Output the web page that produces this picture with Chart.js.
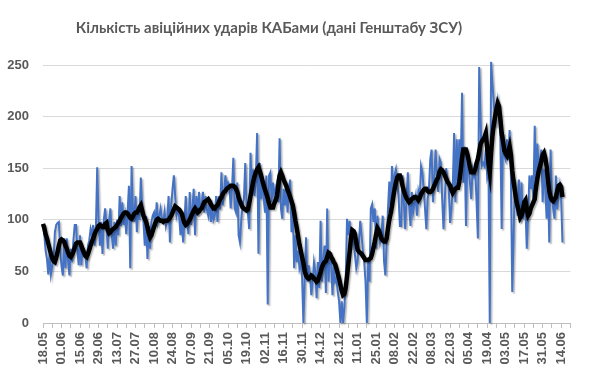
<!DOCTYPE html>
<html>
<head>
<meta charset="utf-8">
<script src="https://cdn.jsdelivr.net/npm/chart.js@4/dist/chart.umd.min.js"></script>
<style>
    body { margin: 0; background: #fff; }
    #wrap { position: relative; width: 590px; height: 376px; }
    #title {
        position: absolute; left: 0; top: 18px; width: 538px;
        text-align: center; font: bold 15px 'Lato', sans-serif; color: #595959;
    }
</style>
</head>
<body>
<div id="wrap">
    <div id="title">Кількість авіційних ударів КАБами (дані Генштабу ЗСУ)</div>
    <canvas id="strikesChart"></canvas>
</div>
<script>
// дні від 18.05, підпис кожні 14 днів
const dateLabels = ['18.05', '01.06', '15.06', '29.06', '13.07', '27.07', '10.08', '24.08', '07.09', '21.09',
    '05.10', '19.10', '02.11', '16.11', '30.11', '14.12', '28.12', '11.01', '25.01', '08.02',
    '22.02', '08.03', '22.03', '05.04', '19.04', '03.05', '17.05', '31.05', '14.06'];
const yTicks = [0, 50, 100, 150, 200, 250];

// щоденна кількість ударів
const dailyStrikes = [
    95, 85, 70, 62, 47, 68, 47, 55, 62, 88,
    95, 97, 98, 70, 55, 46, 82, 53, 82, 60,
    46, 72, 59, 80, 95, 95, 70, 56, 85, 56,
    72, 72, 66, 53, 75, 80, 91, 85, 95, 75,
    90, 151, 100, 75, 98, 67, 100, 111, 95, 72,
    100, 111, 85, 72, 98, 75, 100, 85, 123, 94,
    117, 95, 104, 86, 107, 133, 53, 152, 111, 98,
    123, 88, 111, 100, 141, 114, 98, 75, 104, 62,
    94, 72, 98, 104, 107, 94, 117, 98, 104, 111,
    100, 98, 108, 94, 100, 123, 78, 114, 130, 143,
    123, 104, 110, 104, 85, 104, 78, 98, 123, 100,
    86, 127, 95, 110, 130, 85, 123, 104, 127, 110,
    114, 127, 107, 123, 110, 104, 117, 98, 111, 100,
    104, 123, 98, 123, 110, 146, 114, 127, 143, 130,
    136, 133, 111, 130, 160, 111, 107, 136, 85, 78,
    100, 114, 120, 155, 114, 107, 91, 165, 127, 149,
    123, 140, 184, 67, 155, 120, 139, 120, 107, 143,
    18, 143, 146, 117, 136, 123, 130, 136, 117, 179,
    111, 101, 130, 114, 136, 107, 130, 139, 88, 111,
    53, 85, 59, 70, 53, 59, 45, 0, 43, 83,
    40, 56, 45, 27, 40, 59, 50, 24, 59, 34,
    99, 40, 60, 75, 29, 111, 40, 70, 59, 27,
    56, 40, 43, 30, 21, 0, 21, 0, 15, 40,
    101, 85, 99, 72, 85, 80, 66, 53, 60, 78,
    99, 85, 70, 59, 40, 0, 59, 40, 111, 115,
    98, 111, 72, 104, 90, 78, 85, 104, 60, 46,
    78, 111, 137, 107, 152, 130, 143, 149, 137, 123,
    94, 94, 143, 117, 91, 120, 146, 114, 94, 127,
    107, 115, 123, 104, 127, 120, 152, 146, 130, 111,
    91, 120, 130, 159, 168, 117, 140, 168, 143, 127,
    159, 155, 120, 91, 120, 150, 140, 130, 97, 111,
    130, 184, 117, 178, 136, 178, 150, 223, 136, 171,
    94, 162, 150, 136, 120, 149, 143, 150, 117, 82,
    248, 200, 152, 155, 152, 168, 143, 151, 0, 253,
    232, 215, 190, 205, 215, 200, 180, 91, 184, 162,
    158, 178, 158, 187, 143, 30, 82, 139, 120, 104,
    139, 98, 136, 101, 111, 111, 72, 104, 143, 130,
    143, 120, 191, 130, 174, 150, 158, 168, 117, 149,
    130, 101, 143, 78, 168, 123, 110, 101, 143, 110,
    123, 133, 120, 78
];

// згладжена лінія (ковзне середнє, як на графіку)
const avgStrikes = [
    96, 92, 86, 82, 77, 72, 67, 63, 60, 59,
    63, 69, 75, 80, 81, 80, 79, 75, 72, 68,
    65, 64, 66, 69, 73, 77, 78, 78, 78, 75,
    71, 68, 65, 64, 67, 71, 75, 79, 82, 86,
    89, 91, 94, 95, 94, 93, 93, 96, 97, 90,
    87, 88, 90, 91, 92, 93, 95, 97, 99, 102,
    104, 106, 107, 107, 106, 104, 102, 101, 103, 106,
    107, 107, 109, 112, 114, 109, 104, 101, 98, 93,
    87, 83, 85, 89, 93, 97, 100, 101, 100, 99,
    99, 98, 99, 99, 99, 100, 102, 104, 107, 110,
    113, 112, 111, 110, 108, 106, 101, 97, 95, 96,
    98, 100, 103, 106, 109, 111, 109, 107, 108, 110,
    111, 114, 117, 118, 119, 120, 118, 115, 113, 111,
    111, 113, 114, 117, 120, 122, 125, 127, 128, 130,
    131, 132, 133, 133, 133, 132, 130, 127, 122, 118,
    115, 112, 111, 110, 109, 110, 116, 123, 130, 137,
    142, 146, 149, 151, 147, 143, 138, 133, 129, 125,
    121, 116, 112, 112, 112, 116, 119, 123, 133, 143,
    146, 143, 139, 136, 133, 129, 126, 122, 118, 114,
    107, 99, 92, 84, 76, 70, 64, 58, 50, 46,
    44, 43, 44, 46, 45, 43, 42, 40, 41, 45,
    49, 54, 57, 59, 60, 64, 68, 67, 64, 62,
    59, 57, 53, 48, 43, 37, 31, 27, 28, 34,
    45, 57, 69, 82, 90, 89, 86, 78, 71, 69,
    68, 67, 65, 63, 61, 61, 61, 62, 63, 67,
    73, 79, 86, 92, 90, 86, 82, 80, 79, 79,
    82, 92, 100, 106, 113, 122, 130, 136, 141, 143,
    143, 139, 133, 128, 124, 121, 119, 117, 118, 120,
    121, 122, 122, 121, 119, 121, 125, 127, 129, 130,
    130, 128, 127, 127, 128, 130, 133, 136, 139, 141,
    147, 149, 148, 146, 143, 140, 137, 135, 133, 129,
    126, 128, 130, 131, 131, 137, 148, 160, 168, 168,
    168, 164, 158, 151, 146, 146, 146, 149, 155, 159,
    166, 173, 176, 178, 180, 184, 170, 155, 146, 165,
    181, 192, 200, 207, 213, 210, 198, 184, 176, 167,
    164, 162, 166, 171, 163, 148, 137, 128, 119, 113,
    108, 102, 104, 109, 117, 119, 110, 104, 106, 111,
    114, 117, 120, 132, 140, 147, 152, 157, 163, 165,
    160, 152, 138, 128, 122, 119, 118, 120, 122, 128,
    133, 134, 132, 122
];

const lastDay = 399;

const lineShadow = {
    id: 'lineShadow',
    beforeDatasetDraw(chart) {
        const ctx = chart.ctx;
        ctx.save();
        ctx.shadowColor = 'rgba(0, 0, 0, 0.3)';
        ctx.shadowOffsetX = 1.5;
        ctx.shadowOffsetY = 1.5;
        ctx.shadowBlur = 1.5;
    },
    afterDatasetDraw(chart) {
        chart.ctx.restore();
    }
};

const ctx = document.getElementById('strikesChart');

new Chart(ctx, {
    type: 'line',
    data: {
        datasets: [{
            label: 'Удари КАБами',
            data: dailyStrikes.map((v, i) => ({ x: i, y: v })),
            borderColor: '#4472C4',
            borderWidth: 2,
            pointRadius: 0,
            tension: 0,
            clip: false,
            order: 2
        }, {
            label: 'Середнє',
            data: avgStrikes.map((v, i) => ({ x: i, y: v })),
            borderColor: '#000000',
            borderWidth: 4.5,
            pointRadius: 0,
            tension: 0,
            clip: false,
            order: 1
        }]
    },
    options: {
        responsive: true,
        maintainAspectRatio: false,
        animation: false,
        layout: {
            padding: { top: 65, right: 9, left: 0, bottom: 0 }
        },
        plugins: {
            legend: { display: false },
            tooltip: { enabled: false }
        },
        scales: {
            x: {
                type: 'linear',
                min: 0,
                max: lastDay,
                afterFit: scale => { scale.height = 53; },
                grid: {
                    drawOnChartArea: false,
                    drawTicks: true,
                    tickLength: 5,
                    color: '#bfbfbf'
                },
                border: { display: true, color: '#bfbfbf' },
                ticks: {
                    stepSize: 7,
                    maxTicksLimit: 100,
                    autoSkip: false,
                    maxRotation: 90,
                    minRotation: 90,
                    padding: 4,
                    color: '#595959',
                    font: { family: 'Liberation Sans', size: 13, weight: 'bold' },
                    callback: value => (value % 14 === 0 ? dateLabels[value / 14] : '')
                }
            },
            y: {
                min: yTicks[0],
                max: yTicks[yTicks.length - 1],
                afterFit: scale => { scale.width = 43; },
                grid: {
                    color: '#d9d9d9',
                    drawTicks: false
                },
                border: { display: false },
                ticks: {
                    stepSize: 50,
                    padding: 14,
                    color: '#595959',
                    font: { family: 'Liberation Sans', size: 13, weight: 'bold' }
                }
            }
        }
    },
    plugins: [lineShadow]
});
</script>
</body>
</html>
